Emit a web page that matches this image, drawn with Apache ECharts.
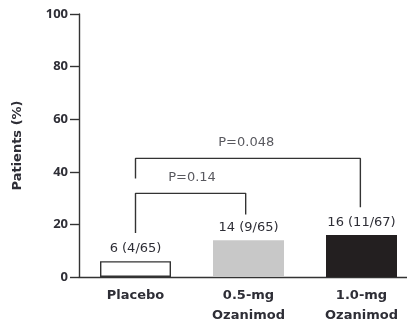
<!DOCTYPE html>
<html><head><meta charset="utf-8">
<script src="https://cdn.jsdelivr.net/npm/echarts@6/dist/echarts.min.js"></script>
<style>html,body{margin:0;padding:0;background:#fff}#c{width:407px;height:327px}</style>
</head><body><div id="c"></div>
<script>
const categories = ['Placebo', '0.5-mg\nOzanimod', '1.0-mg\nOzanimod'];
const values = [6, 14, 16];
const valueLabels = ['6 (4/65)', '14 (9/65)', '16 (11/67)'];
const barColors = ['#ffffff', '#c8c8c8', '#231f20'];
const yTicks = [0, 20, 40, 60, 80, 100];
const bracket1 = [[0, 16.7], [0, 31.8], [0.975, 31.8], [0.975, 23.8]];
const bracket2 = [[0, 37.5], [0, 45.1], [1.99, 45.1], [1.99, 26.5]];
const pLabels = [{ x: 0.5, y: 37.6, text: 'P=0.14' }, { x: 0.98, y: 51, text: 'P=0.048' }];

const wide = 'DejaVu Sans';
const txt = '#2e2e36';
const chart = echarts.init(document.getElementById('c'));
chart.setOption({
  animation: false,
  textStyle: { fontFamily: wide },
  grid: { left: 79, top: 14, width: 339, height: 263, outerBoundsMode: 'none', containLabel: false },
  xAxis: [
    { type: 'category', data: categories,
      axisLine: { lineStyle: { color: '#333', width: 1.4 } },
      axisTick: { show: false },
      axisLabel: { color: txt, fontWeight: 'bold', fontSize: 13, fontFamily: wide, margin: 9, lineHeight: 20 } },
    { type: 'value', min: -0.5, max: 2.5, show: false }
  ],
  yAxis: {
    type: 'value', min: yTicks[0], max: yTicks[yTicks.length - 1], interval: 20,
    name: 'Patients (%)', nameLocation: 'middle', nameRotate: 90, nameGap: 55,
    nameTextStyle: { color: txt, fontWeight: 'bold', fontSize: 13, fontFamily: wide },
    axisLine: { show: true, onZero: false, lineStyle: { color: '#333', width: 1.4 } },
    axisTick: { show: true, length: 9, lineStyle: { color: '#333', width: 1.4 } },
    splitLine: { show: false },
    axisLabel: { color: txt, fontWeight: 'bold', fontSize: 13, fontFamily: 'Open Sans', margin: 11 }
  },
  series: [
    { type: 'bar', barWidth: 71,
      data: values.map((v, i) => ({ value: v, itemStyle: { color: barColors[i], borderColor: '#333', borderWidth: i === 0 ? 1.4 : 0 } })),
      label: { show: true, position: 'top', distance: 6, color: txt, fontSize: 13, fontFamily: wide,
        formatter: p => valueLabels[p.dataIndex] } },
    { type: 'line', xAxisIndex: 1, data: bracket1, symbol: 'none', lineStyle: { color: '#333', width: 1.4 } },
    { type: 'line', xAxisIndex: 1, data: bracket2, symbol: 'none', lineStyle: { color: '#333', width: 1.4 } },
    { type: 'scatter', xAxisIndex: 1, symbolSize: 0,
      data: pLabels.map(p => ({ value: [p.x, p.y], name: p.text })),
      label: { show: true, position: 'inside', color: txt, fontSize: 13, fontFamily: wide, formatter: p => p.name } }
  ]
});
</script></body></html>
